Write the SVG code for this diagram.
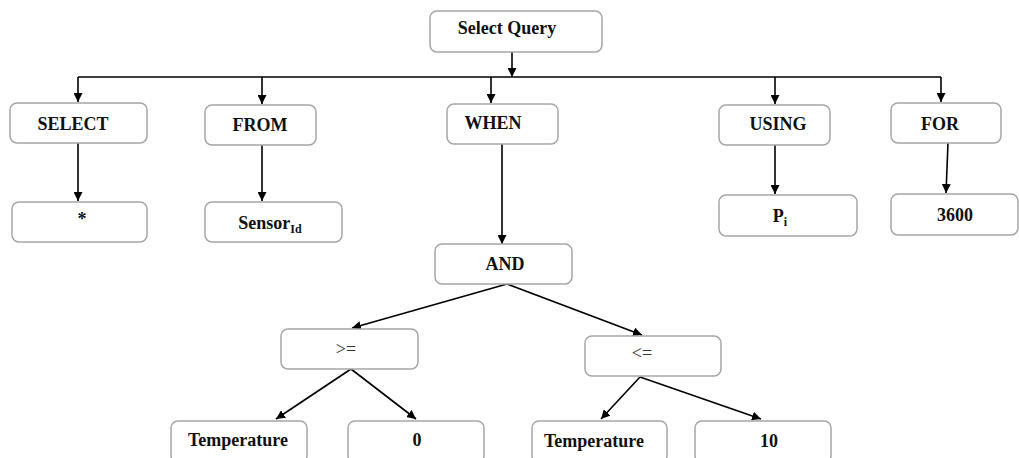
<svg xmlns="http://www.w3.org/2000/svg" width="1019" height="458" viewBox="0 0 1019 458">
<defs>
<marker id="ah" viewBox="0 0 10 10" refX="10" refY="5" markerWidth="9" markerHeight="9" markerUnits="userSpaceOnUse" orient="auto">
<path d="M0,0 L10,5 L0,10 z" fill="#000"/>
</marker>
</defs>
<style>
.box{fill:#fff;stroke:#a6a6a6;stroke-width:1.5}
.t{font-family:"Liberation Serif","Times New Roman",serif;font-weight:bold;font-size:18px;fill:#111;text-anchor:middle}
.op{font-family:"Liberation Serif","Times New Roman",serif;font-size:18px;fill:#333;text-anchor:middle}
.sub{font-size:12px}
.c{fill:none;stroke:#000;stroke-width:1.6;marker-end:url(#ah)}
.l{fill:none;stroke:#000;stroke-width:1.6}
</style>
<rect width="1019" height="458" fill="#fff"/>
<g id="connectors">
<line class="c" x1="512" y1="52" x2="512" y2="77"/>
<line class="l" x1="78" y1="77" x2="941" y2="77"/>
<line class="c" x1="78" y1="77" x2="78" y2="102"/>
<line class="c" x1="262" y1="77" x2="262" y2="104"/>
<line class="c" x1="491" y1="77" x2="491" y2="103"/>
<line class="c" x1="775" y1="77" x2="775" y2="104"/>
<line class="c" x1="941" y1="77" x2="941" y2="102"/>
<line class="c" x1="78" y1="143" x2="78" y2="201"/>
<line class="c" x1="262" y1="145" x2="262" y2="201"/>
<line class="c" x1="502" y1="144" x2="502" y2="244"/>
<line class="c" x1="775" y1="145" x2="775" y2="194"/>
<line class="c" x1="948" y1="143" x2="946" y2="193"/>
<line class="c" x1="507" y1="284" x2="352" y2="328"/>
<line class="c" x1="507" y1="284" x2="642" y2="335"/>
<line class="c" x1="351" y1="369" x2="276" y2="419"/>
<line class="c" x1="351" y1="369" x2="416" y2="419"/>
<line class="c" x1="640" y1="377" x2="601" y2="419"/>
<line class="c" x1="640" y1="377" x2="761" y2="419"/>
</g>
<g id="n-select-query"><rect class="box" x="430" y="11" width="172" height="41" rx="7"/><text class="t" x="507" y="34">Select Query</text></g>
<g id="n-select"><rect class="box" x="10" y="103" width="137" height="40" rx="7"/><text class="t" x="73" y="130">SELECT</text></g>
<g id="n-from"><rect class="box" x="205" y="105" width="111" height="40" rx="7"/><text class="t" x="260" y="131">FROM</text></g>
<g id="n-when"><rect class="box" x="447" y="104" width="111" height="40" rx="7"/><text class="t" x="493" y="129">WHEN</text></g>
<g id="n-using"><rect class="box" x="719" y="105" width="111" height="40" rx="7"/><text class="t" x="778" y="130">USING</text></g>
<g id="n-for"><rect class="box" x="891" y="103" width="110" height="40" rx="7"/><text class="t" x="940" y="130">FOR</text></g>
<g id="n-star"><rect class="box" x="12" y="202" width="135" height="40" rx="7"/><text class="t" x="82" y="225">*</text></g>
<g id="n-sensor"><rect class="box" x="205" y="202" width="137" height="40" rx="7"/><text class="t" x="270" y="229">Sensor<tspan class="sub" dy="4">Id</tspan></text></g>
<g id="n-pi"><rect class="box" x="719" y="195" width="138" height="41" rx="7"/><text class="t" x="780" y="222">P<tspan class="sub" dy="4">i</tspan></text></g>
<g id="n-3600"><rect class="box" x="891" y="194" width="127" height="41" rx="7"/><text class="t" x="955" y="221">3600</text></g>
<g id="n-and"><rect class="box" x="435" y="244" width="137" height="40" rx="7"/><text class="t" x="505" y="270">AND</text></g>
<g id="n-ge"><rect class="box" x="281" y="329" width="137" height="40" rx="7"/><text class="op" x="346" y="355">&gt;=</text></g>
<g id="n-le"><rect class="box" x="585" y="336" width="136" height="40" rx="7"/><text class="op" x="642" y="359">&lt;=</text></g>
<g id="n-temp1"><rect class="box" x="171" y="421" width="136" height="42" rx="7"/><text class="t" x="238" y="446">Temperature</text></g>
<g id="n-zero"><rect class="box" x="348" y="421" width="136" height="42" rx="7"/><text class="t" x="417" y="446">0</text></g>
<g id="n-temp2"><rect class="box" x="532" y="421" width="135" height="42" rx="7"/><text class="t" x="594" y="447">Temperature</text></g>
<g id="n-ten"><rect class="box" x="695" y="421" width="136" height="42" rx="7"/><text class="t" x="769" y="447">10</text></g>
</svg>
